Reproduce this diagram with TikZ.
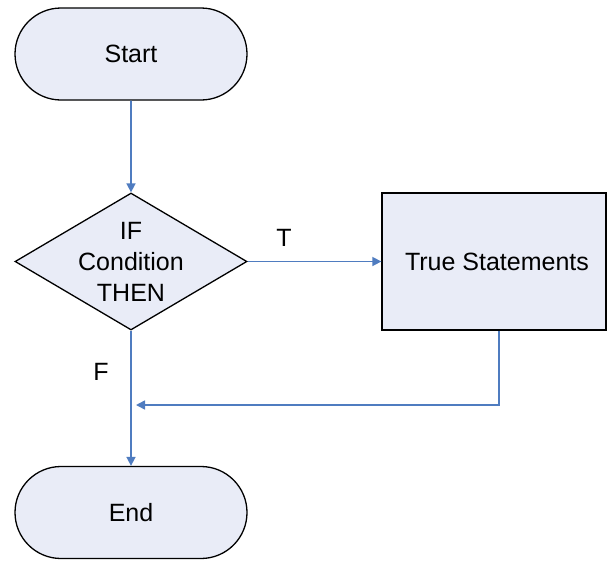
\documentclass[tikz,border=0pt]{standalone}
\usepackage{fontspec}
\setmainfont{Liberation Sans}
\usetikzlibrary{shapes.geometric,shapes.misc,arrows.meta}
\definecolor{fillc}{HTML}{E9ECF7}
\definecolor{linec}{HTML}{4F7CC0}
\begin{document}
\begin{tikzpicture}[x=1pt,y=-1pt,
  every node/.style={font=\fontsize{25}{31}\selectfont},
  terminal/.style={rounded rectangle, draw=black, line width=1.3pt, fill=fillc, minimum width=232pt, minimum height=92pt, inner sep=0pt},
  decision/.style={diamond, draw=black, line width=1.3pt, fill=fillc, aspect=1.69, minimum width=232pt, minimum height=137pt, inner sep=-8pt, align=center},
  process/.style={rectangle, draw=black, line width=1.3pt, fill=fillc, minimum width=224pt, minimum height=137pt},
  conn/.style={draw=linec, line width=1.6pt},
  arr/.style={conn, -{Triangle[length=9pt,width=9pt]}},
  lbl/.style={inner sep=0pt}]
\useasboundingbox (0,0) rectangle (608,560);
\fill[white] (0,0) rectangle (608,560);
\node[terminal] (start) at (131,54) {Start};
\node[decision] (cond) at (131,261.5) {IF\\Condition\\THEN};
\node[process] (tstat) at (494,261.5) {\hspace*{6pt}True Statements};
\node[terminal] (end) at (131,512.5) {End};
\node[lbl] (t) at (284,238) {T};
\node[lbl] (f) at (101,372) {F};
\coordinate (join) at (136,405);
\draw[arr] (start) -- (cond);
\draw[arr] (cond) -- (tstat);
\draw[arr] (cond) -- (end);
\draw[arr] ([xshift=5pt]tstat.south) |- (join);
\end{tikzpicture}
\end{document}
